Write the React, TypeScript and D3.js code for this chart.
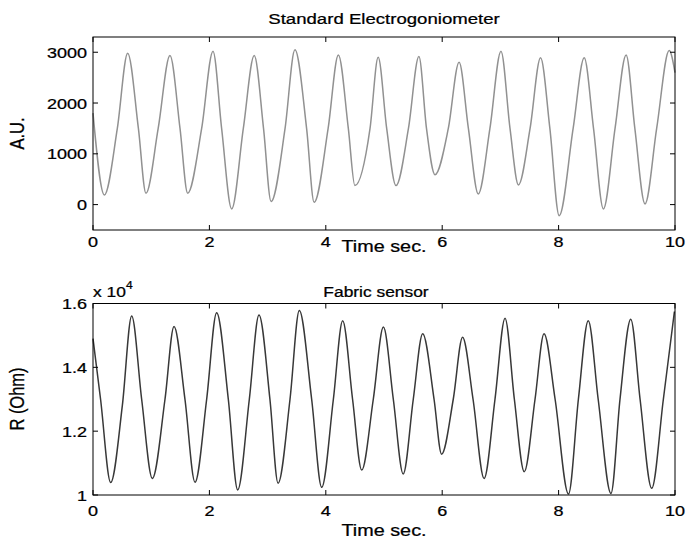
import React from 'react';
import * as d3 from 'd3';

// ---- data ----
const goniometerTime = [
  0, 0.195, 0.418, 0.596, 0.78, 0.91, 1.12, 1.323, 1.495, 1.627, 1.867, 2.062, 2.21, 2.383, 2.583, 2.77, 2.93, 3.06,
  3.3, 3.47, 3.67, 3.8, 4.04, 4.216, 4.387, 4.5, 4.76, 4.9, 5.046, 5.206, 5.42, 5.6, 5.73, 5.876, 6.105, 6.29, 6.45,
  6.62, 6.82, 7.01, 7.165, 7.31, 7.51, 7.69, 7.85, 8.01, 8.25, 8.44, 8.6, 8.77, 8.97, 9.16, 9.31, 9.485, 9.685, 9.9, 10,
];
const goniometerValue = [
  1800, 190, 1500, 2980, 1500, 223, 1500, 2935, 1500, 223, 1500, 3020, 1500, -85, 1500, 2935, 1500, 60,
  1500, 3047, 1500, 45, 1500, 2948, 1500, 374, 1500, 2900, 1500, 374, 1500, 2915, 1500, 590, 1500, 2803, 1500,
  210, 1500, 3020, 1500, 388, 1500, 2890, 1500, -217, 1500, 2890, 1500, -85, 1500, 2948, 1500, 14, 1500, 3033, 2600,
];
const fabricTime = [
  0, 0.13, 0.304, 0.504, 0.665, 0.836, 1.02, 1.237, 1.392, 1.58, 1.753, 1.953, 2.125, 2.325, 2.486, 2.686, 2.852, 3.04,
  3.18, 3.385, 3.545, 3.757, 3.93, 4.13, 4.29, 4.46, 4.617, 4.816, 4.99, 5.16, 5.33, 5.503, 5.665, 5.86, 5.99, 6.19,
  6.35, 6.53, 6.72, 6.907, 7.08, 7.24, 7.41, 7.595, 7.75, 7.94, 8.17, 8.34, 8.51, 8.68, 8.9, 9.055, 9.24, 9.4, 9.6, 9.8, 9.99,
];
const fabricValue = [
  14900, 13000, 10390, 12800, 15610, 13000, 10520, 13000, 15280, 13000, 10400, 13000, 15710, 13000, 10160, 13000, 15640, 13000,
  10370, 13000, 15780, 13000, 10240, 13000, 15460, 13000, 10780, 13000, 15260, 13000, 10660, 13000, 15050, 13000, 11280, 13000,
  14940, 13000, 10520, 13000, 15540, 13000, 10730, 13000, 15050, 13000, 10030, 13000, 15460, 13000, 10050, 13000, 15510, 13000, 10210, 13000, 15750,
];
const xTicks = [0, 2, 4, 6, 8, 10];
const goniometerYTicks = [0, 1000, 2000, 3000];
const goniometerYLabels = ['0', '1000', '2000', '3000'];
const fabricYTicks = [10000, 12000, 14000, 16000];
const fabricYLabels = ['1', '1.2', '1.4', '1.6'];

const FONT = '"Liberation Sans", Arial, Helvetica, sans-serif';
const SX = 1.2;
const X0 = 93;
const X1 = 675;
const TICK = 5;

function Txt(props: { x: number; y: number; anchor?: string; size?: number; rotate?: boolean; children: any }) {
  const { x, y, anchor = 'middle', size = 15, rotate = false, children } = props;
  return (
    <text
      transform={`translate(${x},${y}) scale(${SX},1)${rotate ? ' rotate(-90)' : ''}`}
      textAnchor={anchor}
      fontSize={size}
      fontFamily={FONT}
      fill="#000"
      stroke="#000"
      strokeWidth={0.25}
    >
      {children}
    </text>
  );
}

function Panel(props: {
  top: number; bottom: number; domain: [number, number]; yTicks: number[]; yLabels: string[];
  time: number[]; value: number[]; color: string; xLabelY: number; tickLabelY: number;
}) {
  const { top, bottom, domain, yTicks, yLabels, time, value, color, xLabelY, tickLabelY } = props;
  const x = d3.scaleLinear().domain([0, 10]).range([X0, X1]);
  const y = d3.scaleLinear().domain(domain).range([bottom, top]);
  const pts = time.map((t, i) => [t, value[i]] as [number, number]);
  const line = d3.line<[number, number]>().x(d => x(d[0])).y(d => y(d[1])).curve(d3.curveMonotoneX);
  return (
    <g>
      <path d={line(pts) || ''} fill="none" stroke={color} strokeWidth={1.5} strokeLinejoin="round" />
      <rect x={X0} y={top} width={X1 - X0} height={bottom - top} fill="none" stroke="#000" strokeWidth={1} />
      {xTicks.map(t => (
        <g key={'x' + t}>
          <line x1={x(t)} x2={x(t)} y1={bottom} y2={bottom - TICK} stroke="#000" />
          <line x1={x(t)} x2={x(t)} y1={top} y2={top + TICK} stroke="#000" />
          <Txt x={x(t)} y={tickLabelY}>{String(t)}</Txt>
        </g>
      ))}
      {yTicks.map((v, i) => (
        <g key={'y' + v}>
          <line x1={X0} x2={X0 + TICK} y1={y(v)} y2={y(v)} stroke="#000" />
          <line x1={X1} x2={X1 - TICK} y1={y(v)} y2={y(v)} stroke="#000" />
          <Txt x={87} y={y(v) + 5.5} anchor="end">{yLabels[i]}</Txt>
        </g>
      ))}
      <Txt x={(X0 + X1) / 2} y={xLabelY} size={16.5}>Time sec.</Txt>
    </g>
  );
}

export default function App() {
  return (
    <svg width={686} height={541} style={{ position: 'absolute', left: 0, top: 0, background: '#fff' }}>
      <rect width={686} height={541} fill="#fff" />
      <Txt x={384} y={24} size={15.5}>Standard Electrogoniometer</Txt>
      <Panel top={37} bottom={230} domain={[-500, 3300]} yTicks={goniometerYTicks} yLabels={goniometerYLabels}
        time={goniometerTime} value={goniometerValue} color="#919191" tickLabelY={247} xLabelY={252} />
      <Txt x={24} y={133.5} rotate size={16.5}>A.U.</Txt>

      <Txt x={376} y={297} size={14.5}>Fabric sensor</Txt>
      <Txt x={93} y={297} anchor="start" size={14.5}>x 10</Txt>
      <Txt x={126} y={289} anchor="start" size={10}>4</Txt>
      <Panel top={303.5} bottom={495} domain={[10000, 16000]} yTicks={fabricYTicks} yLabels={fabricYLabels}
        time={fabricTime} value={fabricValue} color="#383838" tickLabelY={516} xLabelY={536} />
      <Txt x={24} y={399} rotate size={16.5}>R (Ohm)</Txt>
    </svg>
  );
}
